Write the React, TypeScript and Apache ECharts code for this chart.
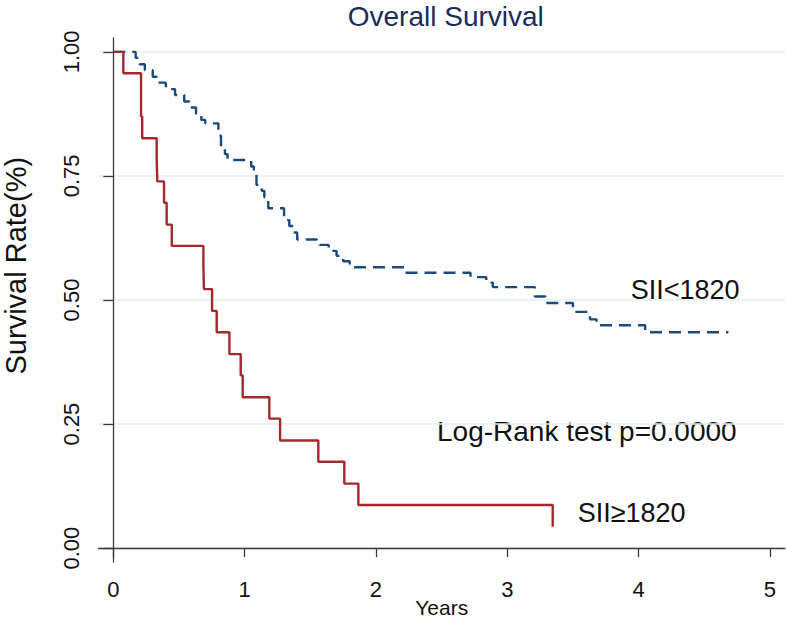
import React, { useEffect, useRef } from "react";
import * as echarts from "echarts";

// Kaplan-Meier steps: time (years) and survival after the event at that time
const lowTimes = [0, 0.17, 0.2, 0.24, 0.3, 0.33, 0.4, 0.47, 0.54, 0.58, 0.63, 0.67, 0.7, 0.8, 0.82, 0.85, 0.87, 1.05, 1.07, 1.09, 1.13, 1.15, 1.18, 1.3, 1.34, 1.37, 1.4, 1.55, 1.64, 1.7, 1.75, 1.8, 2.22, 2.72, 2.84, 2.89, 3.21, 3.29, 3.5, 3.63, 3.68, 4.05, 4.684];
const lowSurv = [1, 0.988, 0.975, 0.963, 0.95, 0.938, 0.925, 0.913, 0.9, 0.888, 0.875, 0.863, 0.856, 0.831, 0.806, 0.794, 0.782, 0.769, 0.757, 0.732, 0.72, 0.707, 0.685, 0.661, 0.649, 0.636, 0.622, 0.611, 0.599, 0.589, 0.578, 0.566, 0.555, 0.546, 0.535, 0.526, 0.507, 0.494, 0.476, 0.461, 0.449, 0.435, 0.435];

const highTimes = [0, 0.076, 0.211, 0.22, 0.33, 0.335, 0.386, 0.406, 0.445, 0.686, 0.69, 0.752, 0.787, 0.884, 0.97, 0.985, 1.188, 1.27, 1.561, 1.759, 1.866, 3.346];
const highSurv = [1, 0.957, 0.87, 0.826, 0.783, 0.739, 0.696, 0.652, 0.609, 0.565, 0.522, 0.478, 0.435, 0.391, 0.348, 0.304, 0.261, 0.217, 0.174, 0.13, 0.087, 0.043];

const xTicks = [0, 1, 2, 3, 4, 5];
const yTicks = [0, 0.25, 0.5, 0.75, 1];

const seriesNames = ["SII<1820", "SII≥1820"];
const titleText = "Overall Survival";
const yTitle = "Survival Rate(%)";
const xTitle = "Years";
const testText = "Log-Rank test p=0.0000";

const FONT = "'Liberation Sans', Arial, Helvetica, sans-serif";

export default function App() {
  const ref = useRef<HTMLDivElement>(null);

  useEffect(() => {
    if (!ref.current) return;
    const chart = echarts.init(ref.current, undefined, { renderer: "svg" });
    const lowData = lowTimes.map((t, i) => [t, lowSurv[i]]);
    const highData = highTimes.map((t, i) => [t, highSurv[i]]);

    chart.setOption({
      animation: false,
      backgroundColor: "#ffffff",
      textStyle: { fontFamily: FONT },
      grid: {
        left: 98.5,
        right: 1,
        top: 38,
        bottom: 62,
        containLabel: false,
        outerBoundsMode: "none",
      },
      xAxis: {
        type: "value",
        min: -0.113,
        max: 5.115,
        name: xTitle,
        nameLocation: "middle",
        nameGap: 35,
        nameMoveOverlap: false,
        nameTextStyle: { fontSize: 21, color: "#111111", fontFamily: FONT, lineHeight: 20 },
        axisLine: { show: true, lineStyle: { color: "#3a3a3a", width: 1.3 } },
        axisTick: {
          show: true,
          length: 9,
          customValues: xTicks,
          lineStyle: { color: "#3a3a3a", width: 1.3 },
        },
        axisLabel: {
          customValues: xTicks,
          fontSize: 22,
          color: "#111111",
          margin: 16,
          fontFamily: FONT,
        },
        splitLine: { show: false },
      },
      yAxis: {
        type: "value",
        min: -0.028,
        max: 1.028,
        axisLine: { show: true, lineStyle: { color: "#3a3a3a", width: 1.3 } },
        axisTick: {
          show: true,
          length: 10,
          customValues: yTicks,
          lineStyle: { color: "#3a3a3a", width: 1.3 },
        },
        axisLabel: {
          customValues: yTicks,
          rotate: 90,
          fontSize: 22,
          color: "#111111",
          margin: 16,
          fontFamily: FONT,
          formatter: (v: number) => v.toFixed(2),
        },
        splitLine: {
          show: true,
          lineStyle: { color: "#e4eef2", width: 1.6 },
        },
      },
      series: [
        {
          name: seriesNames[0],
          type: "line",
          step: "end",
          data: lowData,
          showSymbol: false,
          symbol: "none",
          lineStyle: { color: "#1d4a7c", width: 2.4, type: [12, 7] },
          z: 2,
        },
        {
          name: seriesNames[1],
          type: "line",
          step: "end",
          data: highData,
          showSymbol: false,
          symbol: "none",
          lineStyle: { color: "#a3292e", width: 2.4, type: "solid" },
          z: 3,
        },
      ],
      graphic: [
        {
          type: "text",
          x: 445.8,
          y: 16,
          style: {
            text: titleText,
            fontSize: 28,
            lineHeight: 28,
            fontFamily: FONT,
            fill: "#1b2b5b",
            align: "center",
            verticalAlign: "middle",
          },
        },
        {
          type: "text",
          x: 15.5,
          y: 265.7,
          rotation: Math.PI / 2,
          style: {
            text: yTitle,
            fontSize: 29,
            lineHeight: 28,
            fontFamily: FONT,
            fill: "#111111",
            align: "center",
            verticalAlign: "middle",
          },
        },
        {
          type: "text",
          x: 630.7,
          y: 290,
          style: {
            text: seriesNames[0],
            fontSize: 27,
            fontFamily: FONT,
            fill: "#111111",
            align: "left",
            verticalAlign: "middle",
          },
        },
        {
          type: "text",
          x: 577.7,
          y: 512.5,
          style: {
            text: seriesNames[1],
            fontSize: 27,
            fontFamily: FONT,
            fill: "#111111",
            align: "left",
            verticalAlign: "middle",
          },
        },
        {
          type: "text",
          x: 437,
          y: 431,
          style: {
            text: testText,
            fontSize: 28,
            fontFamily: FONT,
            fill: "#111111",
            align: "left",
            verticalAlign: "middle",
          },
        },
      ],
    });

    return () => {
      chart.dispose();
    };
  }, []);

  return (
    <div
      ref={ref}
      style={{ position: "absolute", left: 0, top: 0, width: 786, height: 624 }}
    />
  );
}
